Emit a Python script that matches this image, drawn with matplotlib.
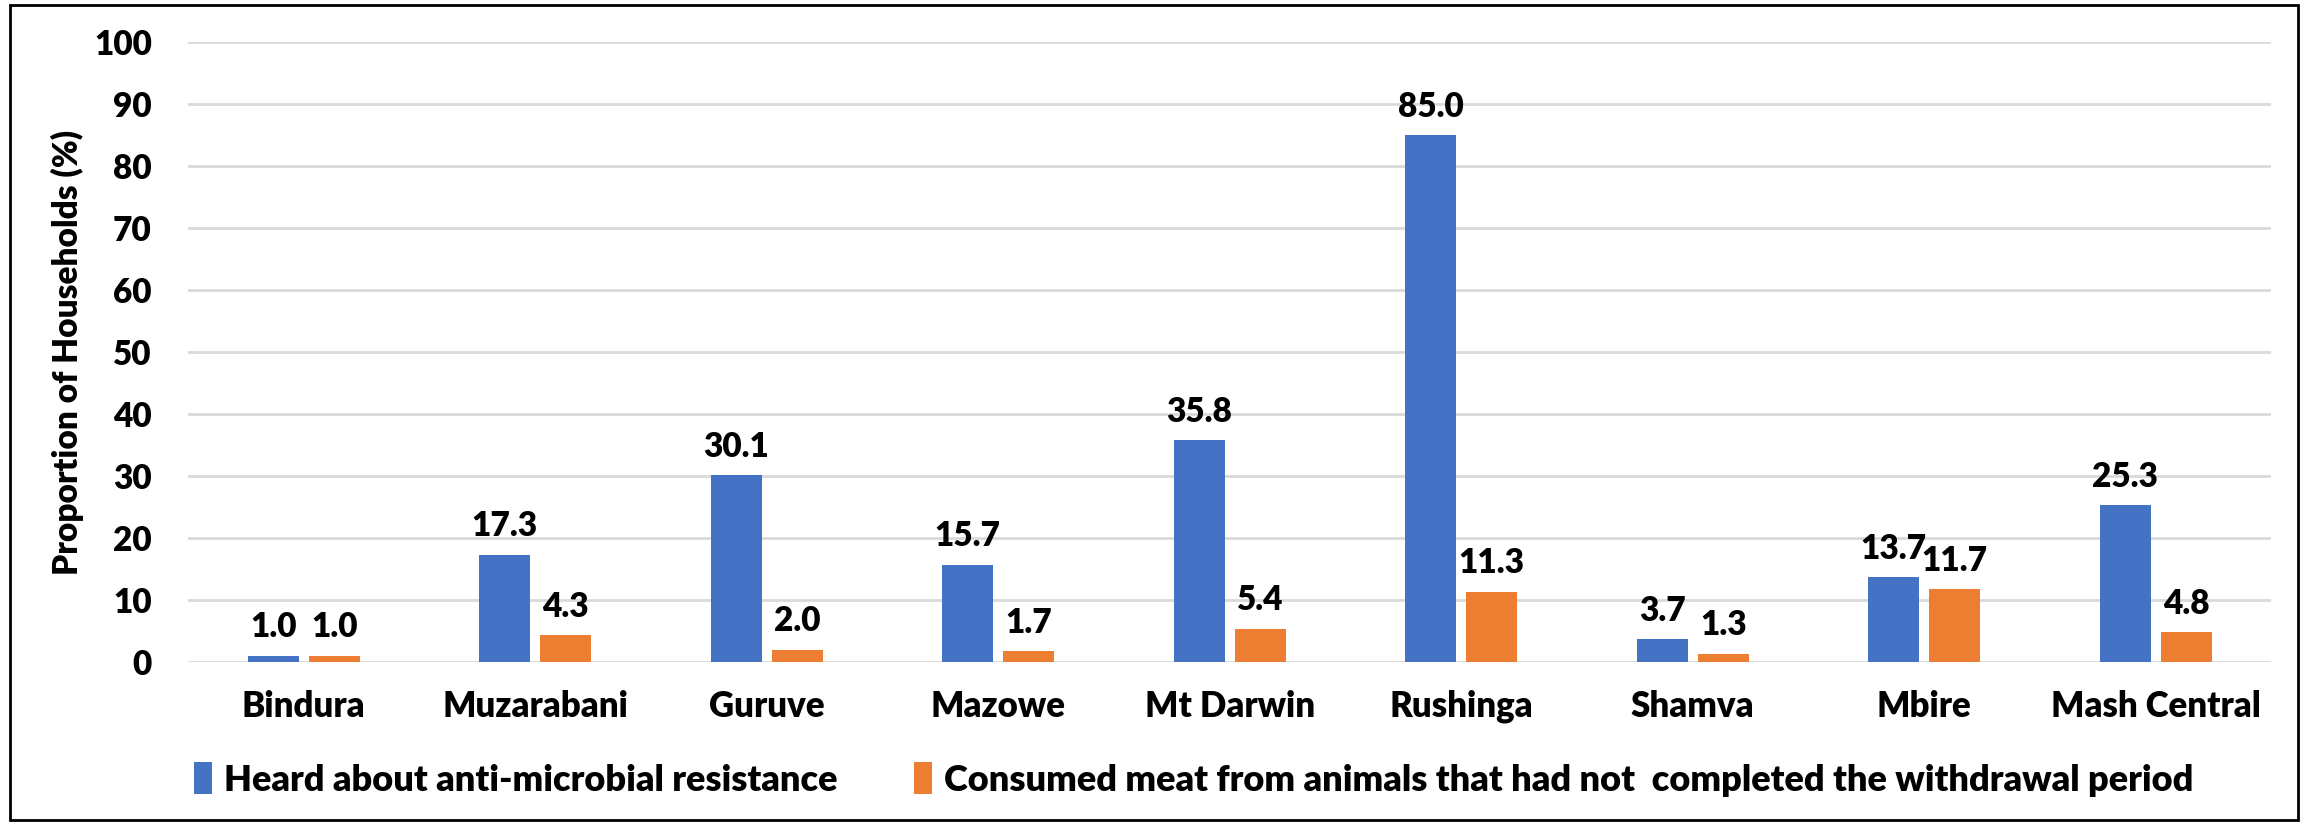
import numpy as np
import matplotlib.pyplot as plt
from matplotlib.patches import Rectangle

distritos = ['Bindura', 'Muzarabani', 'Guruve', 'Mazowe', 'Mt Darwin',
             'Rushinga', 'Shamva', 'Mbire', 'Mash Central']
amr = [1.0, 17.3, 30.1, 15.7, 35.8, 85.0, 3.7, 13.7, 25.3]
carne = [1.0, 4.3, 2.0, 1.7, 5.4, 11.3, 1.3, 11.7, 4.8]
serie_amr = 'Heard about anti-microbial resistance'
serie_carne = 'Consumed meat from animals that had not  completed the withdrawal period'

azul = '#4472C4'
naranja = '#ED7D31'
plt.rcParams['font.family'] = ['Lato', 'DejaVu Sans']
plt.rcParams['font.weight'] = 'heavy'
plt.rcParams['axes.labelweight'] = 'heavy'
fs = 25      # categorias
fs_num = 24  # numeros
fs_ley = 26  # leyenda

fig = plt.figure(figsize=(23.06, 8.22), dpi=100)
ax = fig.add_axes([0.0815, 0.1946, 0.9035, 0.7543])

x = np.arange(len(distritos))
w = 0.22
b1 = ax.bar(x - 0.132, amr, w, color=azul, label=serie_amr, zorder=3)
b2 = ax.bar(x + 0.132, carne, w, color=naranja, label=serie_carne, zorder=3)

# etiquetas con el valor arriba de cada barra
for barras in (b1, b2):
    for b in barras:
        h = b.get_height()
        ax.annotate('{:.1f}'.format(h), (b.get_x() + b.get_width() / 2, h),
                    xytext=(0, 9), textcoords='offset points',
                    ha='center', va='bottom', fontsize=fs_num)

ax.set_xlim(-0.5, len(distritos) - 0.5)
ax.set_ylim(0, 100)
ax.set_yticks(np.arange(0, 101, 10))
ax.set_xticks(x)
ax.set_xticklabels(distritos, fontsize=fs)
ax.tick_params(axis='both', length=0)
ax.tick_params(axis='y', labelsize=fs_num, pad=26)
ax.tick_params(axis='x', pad=20)
ax.grid(axis='y', color='#D9D9D9', linewidth=2, zorder=0)
ax.set_axisbelow(True)
for s in ax.spines.values():
    s.set_visible(False)
ax.set_ylabel('Proportion of Households (%)', fontsize=fs_num, fontweight='heavy', labelpad=7)

fig.legend(loc='center left', bbox_to_anchor=(0.084, 0.052), ncol=2, frameon=False,
           fontsize=fs_ley, handlelength=0.5, handleheight=1.0, handletextpad=0.35,
           columnspacing=2.1, borderaxespad=0, borderpad=0)

fig.patches.append(Rectangle((0.0045, 0.002), 0.992, 0.992, transform=fig.transFigure,
                             fill=False, edgecolor='black', linewidth=2))

plt.savefig('out.png', dpi=100)
